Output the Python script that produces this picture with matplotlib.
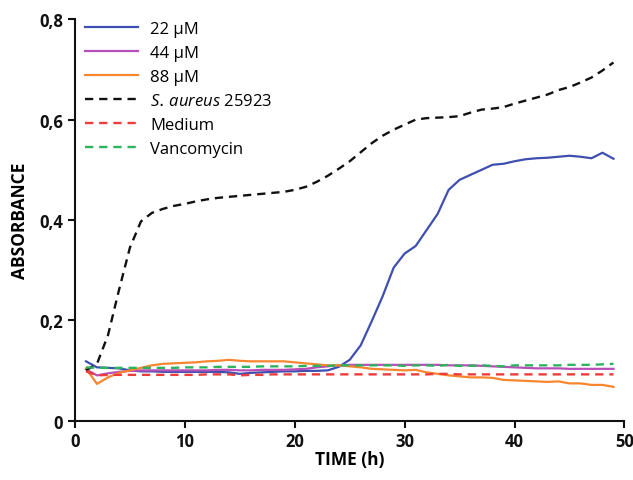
import matplotlib
matplotlib.use("Agg")
import matplotlib.pyplot as plt
from matplotlib.ticker import FuncFormatter

time_h = list(range(1, 50))

uM22 = [0.118, 0.106, 0.105, 0.104, 0.100, 0.098, 0.098, 0.097, 0.097, 0.097,
        0.097, 0.097, 0.097, 0.096, 0.093, 0.095, 0.096, 0.097, 0.098, 0.098,
        0.099, 0.099, 0.100, 0.107, 0.121, 0.150, 0.198, 0.248, 0.305, 0.333,
        0.348, 0.380, 0.412, 0.460, 0.480, 0.490, 0.500, 0.510, 0.512, 0.517,
        0.521, 0.523, 0.524, 0.526, 0.528, 0.526, 0.523, 0.534, 0.522]

uM44 = [0.102, 0.090, 0.094, 0.097, 0.099, 0.100, 0.100, 0.100, 0.100, 0.100,
        0.100, 0.100, 0.101, 0.101, 0.100, 0.100, 0.101, 0.101, 0.101, 0.102,
        0.103, 0.106, 0.108, 0.110, 0.111, 0.111, 0.111, 0.111, 0.111, 0.111,
        0.111, 0.111, 0.111, 0.110, 0.110, 0.110, 0.109, 0.108, 0.107, 0.106,
        0.105, 0.104, 0.104, 0.104, 0.103, 0.103, 0.103, 0.103, 0.103]

uM88 = [0.104, 0.073, 0.086, 0.095, 0.100, 0.105, 0.110, 0.113, 0.114, 0.115,
        0.116, 0.118, 0.119, 0.121, 0.119, 0.118, 0.118, 0.118, 0.118, 0.116,
        0.114, 0.112, 0.110, 0.110, 0.108, 0.106, 0.103, 0.102, 0.101, 0.100,
        0.101, 0.096, 0.093, 0.090, 0.088, 0.086, 0.086, 0.085, 0.081, 0.080,
        0.079, 0.078, 0.077, 0.078, 0.074, 0.074, 0.071, 0.071, 0.067]

s_aureus = [0.100, 0.113, 0.170, 0.260, 0.345, 0.397, 0.414, 0.422, 0.428, 0.432,
            0.437, 0.441, 0.444, 0.446, 0.448, 0.450, 0.452, 0.454, 0.456, 0.460,
            0.466, 0.476, 0.488, 0.502, 0.517, 0.535, 0.553, 0.568, 0.580, 0.590,
            0.600, 0.603, 0.604, 0.605, 0.607, 0.614, 0.620, 0.622, 0.625, 0.632,
            0.638, 0.644, 0.650, 0.659, 0.665, 0.674, 0.684, 0.698, 0.714]

medium = [0.098, 0.090, 0.091, 0.091, 0.091, 0.091, 0.091, 0.091, 0.091, 0.091,
          0.091, 0.092, 0.092, 0.092, 0.090, 0.091, 0.091, 0.092, 0.092, 0.092,
          0.092, 0.092, 0.092, 0.092, 0.092, 0.092, 0.092, 0.092, 0.092, 0.092,
          0.092, 0.092, 0.093, 0.093, 0.092, 0.092, 0.092, 0.092, 0.092, 0.092,
          0.092, 0.092, 0.092, 0.092, 0.092, 0.092, 0.092, 0.092, 0.092]

vancomycin = [0.106, 0.105, 0.105, 0.105, 0.105, 0.105, 0.105, 0.105, 0.105, 0.106,
              0.106, 0.106, 0.107, 0.107, 0.107, 0.107, 0.108, 0.108, 0.108, 0.108,
              0.109, 0.109, 0.109, 0.110, 0.110, 0.110, 0.110, 0.110, 0.110, 0.109,
              0.110, 0.110, 0.109, 0.111, 0.109, 0.109, 0.110, 0.109, 0.108, 0.110,
              0.110, 0.110, 0.110, 0.110, 0.111, 0.111, 0.111, 0.112, 0.113]

labels = ["22 \u03bcM", "44 \u03bcM", "88 \u03bcM",
          r"$\it{S.\,aureus}$ 25923", "Medium", "Vancomycin"]

plt.rcParams['font.family'] = ['Open Sans', 'DejaVu Sans']
plt.rcParams['mathtext.fontset'] = 'custom'
plt.rcParams['mathtext.it'] = 'Open Sans:italic'

fig = plt.figure(figsize=(6.33, 4.81), dpi=100)
ax = fig.add_axes([0.1185, 0.1237, 0.868, 0.834])

dash = (3.5, 2.5)
ax.plot(time_h, uM22, color="#3F4FAF", lw=1.6, label=labels[0])
ax.plot(time_h, uM44, color="#B84FB8", lw=1.6, label=labels[1])
ax.plot(time_h, uM88, color="#F7862F", lw=1.6, label=labels[2])
ax.plot(time_h, s_aureus, color="#111111", lw=1.7, ls=(0, dash), label=labels[3])
ax.plot(time_h, medium, color="#EE3B3B", lw=1.7, ls=(0, dash), label=labels[4])
ax.plot(time_h, vancomycin, color="#2DB35E", lw=1.7, ls=(0, dash), label=labels[5])

ax.set_xlim(0, 50)
ax.set_ylim(0, 0.8)
ax.set_xticks([0, 10, 20, 30, 40, 50])
ax.set_yticks([0, 0.2, 0.4, 0.6, 0.8])
ax.yaxis.set_major_formatter(FuncFormatter(
    lambda v, p: "0" if abs(v) < 1e-9 else f"{v:.1f}".replace(".", ",")))

for s in ["top", "right"]:
    ax.spines[s].set_visible(False)
for s in ["left", "bottom"]:
    ax.spines[s].set_linewidth(1.5)
    ax.spines[s].set_color("#111111")

ax.tick_params(direction="out", length=5, width=1.5, labelsize=12, colors="#111111")
for lab in ax.get_xticklabels() + ax.get_yticklabels():
    lab.set_fontweight("bold")

ax.set_xlabel("TIME (h)", fontsize=12.5, fontweight="bold", labelpad=0)
ax.set_ylabel("ABSORBANCE", fontsize=12.5, fontweight="bold", labelpad=7)

leg = ax.legend(loc="upper left", bbox_to_anchor=(0.0, 1.02), frameon=False,
                fontsize=12, handlelength=3.2, handletextpad=0.7,
                labelspacing=0.48, borderaxespad=0.2)

fig.savefig("out.png", dpi=100)
